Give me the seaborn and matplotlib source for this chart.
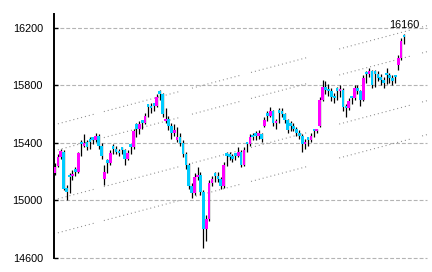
import matplotlib
matplotlib.use("Agg")
import matplotlib.pyplot as plt
import seaborn as sns
import numpy as np
import pandas as pd

# ---- data ----
opens = [15190, 15240, 15300, 15340, 15090, 15180, 15170, 15220, 15200, 15410,
         15380, 15410, 15430, 15440, 15420, 15450, 15380, 15150, 15280, 15260,
         15380, 15360, 15340, 15370, 15350, 15290, 15390, 15370, 15530, 15500,
         15560, 15540, 15670, 15660, 15680, 15660, 15760, 15740, 15550, 15570,
         15520, 15470, 15420, 15440, 15400, 15320, 15250, 15100, 15050, 15160,
         15180, 15060, 14800, 14870, 15120, 15190, 15170, 15150, 15100, 15330,
         15320, 15300, 15330, 15310, 15340, 15250, 15400, 15390, 15450, 15470,
         15450, 15460, 15520, 15600, 15590, 15620, 15540, 15630, 15620, 15600,
         15560, 15540, 15520, 15500, 15470, 15450, 15390, 15440, 15420, 15500,
         15480, 15520, 15700, 15790, 15770, 15760, 15720, 15780, 15760, 15770,
         15650, 15640, 15730, 15710, 15780, 15760, 15700, 15890, 15880, 15900,
         15900, 15880, 15850, 15840, 15890, 15870, 15850, 15870, 15940, 15990,
         16140]
highs = [15260, 15320, 15360, 15350, 15110, 15190, 15210, 15230, 15340, 15420,
         15460, 15420, 15440, 15440, 15470, 15460, 15400, 15250, 15290, 15350,
         15390, 15380, 15360, 15370, 15360, 15350, 15390, 15500, 15540, 15550,
         15560, 15610, 15670, 15680, 15680, 15740, 15770, 15750, 15640, 15590,
         15540, 15530, 15510, 15470, 15420, 15340, 15260, 15120, 15190, 15230,
         15200, 15070, 14900, 15140, 15170, 15200, 15200, 15160, 15270, 15340,
         15340, 15320, 15330, 15370, 15350, 15370, 15410, 15460, 15470, 15480,
         15490, 15470, 15580, 15620, 15650, 15630, 15570, 15640, 15640, 15610,
         15570, 15550, 15540, 15510, 15490, 15460, 15430, 15440, 15470, 15500,
         15500, 15720, 15840, 15830, 15810, 15780, 15750, 15790, 15800, 15780,
         15670, 15710, 15730, 15800, 15800, 15770, 15870, 15900, 15920, 15910,
         15910, 15900, 15880, 15860, 15920, 15890, 15870, 15870, 16010, 16130,
         16160]
lows = [15180, 15230, 15290, 15070, 15000, 15050, 15140, 15170, 15190, 15310,
        15370, 15350, 15360, 15390, 15410, 15360, 15290, 15110, 15190, 15250,
        15320, 15320, 15310, 15320, 15250, 15280, 15320, 15360, 15440, 15460,
        15500, 15530, 15580, 15610, 15620, 15650, 15700, 15580, 15540, 15490,
        15430, 15450, 15410, 15380, 15300, 15220, 15080, 15020, 15040, 15140,
        15040, 14670, 14720, 14860, 15100, 15130, 15130, 15080, 15090, 15240,
        15280, 15270, 15280, 15300, 15230, 15240, 15340, 15380, 15420, 15420,
        15430, 15410, 15510, 15550, 15580, 15520, 15500, 15540, 15580, 15540,
        15470, 15480, 15480, 15450, 15430, 15340, 15360, 15380, 15410, 15440,
        15470, 15510, 15690, 15740, 15730, 15690, 15680, 15700, 15720, 15620,
        15580, 15630, 15670, 15700, 15740, 15660, 15690, 15820, 15860, 15780,
        15790, 15830, 15800, 15780, 15810, 15820, 15800, 15820, 15910, 15980,
        16090]
closes = [15230, 15300, 15345, 15080, 15060, 15160, 15180, 15200, 15330, 15390,
          15400, 15370, 15410, 15420, 15450, 15380, 15310, 15200, 15260, 15330,
          15360, 15340, 15330, 15350, 15290, 15330, 15370, 15480, 15500, 15530,
          15540, 15590, 15650, 15640, 15660, 15720, 15740, 15600, 15570, 15520,
          15470, 15490, 15440, 15400, 15320, 15250, 15100, 15050, 15160, 15180,
          15060, 14800, 14870, 15120, 15150, 15170, 15150, 15100, 15250, 15310,
          15300, 15290, 15310, 15340, 15250, 15350, 15390, 15440, 15440, 15450,
          15460, 15430, 15560, 15590, 15620, 15540, 15550, 15610, 15600, 15560,
          15490, 15520, 15500, 15470, 15450, 15390, 15410, 15420, 15450, 15480,
          15490, 15700, 15790, 15770, 15760, 15720, 15710, 15760, 15770, 15650,
          15640, 15690, 15710, 15780, 15760, 15700, 15850, 15880, 15900, 15800,
          15880, 15850, 15840, 15820, 15870, 15850, 15830, 15860, 15990, 16110,
          16135]

y_ticks = [14600, 15000, 15400, 15800, 16200]
last_label = "16160"

# trend channel lines (value at left edge and at right edge of the plot)
trend_start = [15526, 15345, 15004, 14768]
trend_end = [16216, 16035, 15694, 15458]

# ---- drawing ----
sns.set_style("white")
plt.rcParams['font.family'] = ['Liberation Sans', 'DejaVu Sans']

UP = "#ff00ff"
DOWN = "#00ccff"

df = pd.DataFrame({"open": opens, "high": highs, "low": lows, "close": closes})
df["idx"] = np.arange(len(df))
df["bottom"] = df[["open", "close"]].min(axis=1)
df["height"] = (df["close"] - df["open"]).abs().clip(lower=16)
df["color"] = np.where(df["close"] >= df["open"], UP, DOWN)

fig = plt.figure(figsize=(4.32, 2.72), dpi=100)
ax = fig.add_axes([54 / 432, 1 - 258 / 272, (427 - 54) / 432, (258 - 14) / 272])

x_left, x_right = -0.34, 127.9
y_bot, y_top = 14600, 16297

# gridlines
for t in y_ticks:
    ax.axhline(t, color="#b4b4b4", lw=0.8, linestyle=(0, (3.5, 1.8)),
               zorder=0, clip_on=False)

# trend channel (dotted, drawn in pieces)
segments = [(-0.34, 13.4), (16.8, 43.3), (47.1, 64.0), (67.4, 86.7),
            (97.7, 122.4), (126.2, 127.9)]
for v0, v1 in zip(trend_start, trend_end):
    slope = (v1 - v0) / (x_right - x_left)
    for a, b in segments:
        xs = [a, b]
        ys = [v0 + slope * (a - x_left), v0 + slope * (b - x_left)]
        ax.plot(xs, ys, color="#8c8c8c", lw=0.8, linestyle=(0, (0.9, 2.7)),
                zorder=1)

# wicks
ax.vlines(df["idx"], df["low"], df["high"], color="black", lw=0.9, zorder=2)
# bodies
ax.bar(df["idx"], df["height"], bottom=df["bottom"], width=0.92,
       color=df["color"], edgecolor="none", zorder=3)

ax.annotate(last_label, xy=(df["idx"].iloc[-1], df["high"].iloc[-1]),
            xytext=(0, 3), textcoords="offset points", ha="center", va="bottom",
            fontsize=7.8, color="black")

ax.set_xlim(x_left, x_right)
ax.set_ylim(y_bot, y_top)
ax.set_yticks(y_ticks)
ax.set_yticklabels([str(t) for t in y_ticks])
ax.set_xticks([])
for s in ["top", "right", "bottom"]:
    ax.spines[s].set_visible(False)
ax.spines["left"].set_color("black")
ax.spines["left"].set_linewidth(1.4)
ax.tick_params(axis="y", direction="in", length=3, width=1, pad=8,
               labelsize=7.8, colors="black", left=True)
ax.set_facecolor("white")
fig.patch.set_facecolor("white")

fig.savefig("out.png", dpi=100, facecolor="white")
